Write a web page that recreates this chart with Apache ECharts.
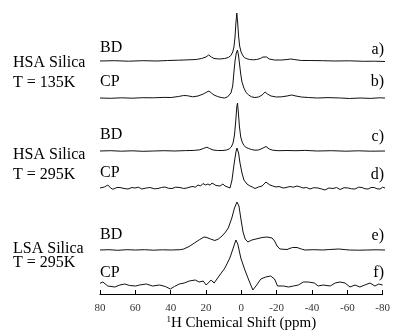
<!DOCTYPE html>
<html>
<head>
<meta charset="utf-8">
<script src="https://cdn.jsdelivr.net/npm/echarts@6/dist/echarts.min.js"></script>
<style>
  html, body { margin: 0; padding: 0; background: #fff; }
  #chart { width: 393px; height: 333px; }
</style>
</head>
<body>
<div id="chart"></div>
<script>
// spectra: [ppm, intensity above baseline]
const traceA = [[80,0],[72,0.3],[64,-0.2],[56,0.3],[48,0],[42,0.5],[36,0.8],[30,1.2],[26,1.5],[23,2.5],[20.5,4],[19,6],[17.5,4],[16,2.5],[13,2],[10,2.5],[8,3.5],[6.5,5.5],[5.5,9],[4.8,14],[4.2,24],[3.7,38],[3.2,48],[2.7,38],[2.2,25],[1.6,15],[0.8,9],[0,6],[-1,3.5],[-2.5,2.2],[-4,1.5],[-6,1.2],[-8,1.5],[-10,2.5],[-11.5,4],[-12.5,5.5],[-13.5,4],[-15,2],[-18,1],[-22,1],[-25,1.5],[-27,2],[-29,1.5],[-33,0.5],[-38,0.5],[-45,0.3],[-52,0],[-60,0.2],[-68,-0.3],[-74,-0.2],[-80,-0.5]];
const traceB = [[80,0],[74,-0.3],[68,0.2],[62,-0.2],[56,0.3],[50,0.2],[44,0.6],[40,0.5],[36,1.5],[33,2.5],[31,2.3],[28,1.2],[25,2],[22,4],[20,6],[18.8,7],[17.5,5],[16,3],[14,1.5],[12,0.5],[10,0],[8.5,1],[7.5,2.5],[6.5,5],[5.5,12],[4.8,26],[4.2,37],[3.5,45],[2.8,48],[2.2,42],[1.6,33],[1,24],[0.3,16],[-0.8,10],[-2,5.5],[-3.5,3],[-5,1.2],[-7,0.5],[-9,1],[-11,3],[-12.7,6],[-14,4],[-16,2],[-19,1],[-22,1.2],[-25,2],[-27.5,3],[-30,2],[-33,1],[-37,0.5],[-42,0],[-48,0.4],[-55,0],[-60,-0.5],[-66,0],[-72,-0.4],[-77,0.2],[-80,0]];
const traceC = [[80,0],[74,0.3],[68,-0.2],[62,0.2],[56,-0.3],[50,0],[44,0.3],[38,0],[32,0.4],[27,0.6],[24,1.2],[22,2.5],[20,3.8],[18.5,2.5],[16.5,1],[14,0.5],[11,0.5],[9,1],[7.5,2],[6.3,4],[5.3,8],[4.5,16],[3.8,30],[3.2,44],[2.8,48],[2.3,38],[1.7,24],[1,14],[0.2,9],[-0.8,5.5],[-2,3.5],[-3.5,2.5],[-5,1.5],[-7,0.8],[-9,1],[-11,2.5],[-13.2,4.5],[-15,2],[-17,0.8],[-20,0.3],[-25,0.5],[-30,0.3],[-35,0.6],[-42,0],[-50,0.3],[-58,-0.2],[-65,0.2],[-72,-0.2],[-80,0]];
const traceD = [[80,0],[77.5,1],[75.6,3],[74,0],[72.8,-1.3],[70.5,0.5],[68.8,0.5],[66.5,-0.5],[64.3,-1],[62,0.5],[60.4,0],[58.5,0.8],[56.5,-1],[54,0],[52,0.5],[49.5,-0.8],[47.5,-0.5],[45.5,0.5],[43.5,1],[41.5,-0.3],[39.6,-0.5],[37.5,0.8],[35.1,0.5],[33,-0.5],[31.2,0],[29.5,1],[27.8,1.5],[26.5,0.8],[25,3],[23.5,2],[22.2,4.5],[20.8,3],[19.4,4],[18.2,2.8],[17.1,5],[16,3.5],[14.9,2.5],[13.8,1],[12.6,2],[11,4],[9.8,2],[8.7,0.5],[7,0],[5.9,8],[4.8,23],[3.7,36],[3.1,40],[2.2,35],[1.4,25],[0.3,15],[-0.8,8],[-2.5,4],[-4.2,2],[-5.5,1],[-7,-0.5],[-9,1],[-11,2],[-13.2,6],[-14.2,4],[-15.4,3],[-17,2],[-18.8,1],[-20.5,1.5],[-22.8,0],[-24.5,0.5],[-26.7,1.5],[-28.5,0.8],[-30.6,2],[-32.5,1],[-34,0],[-36,0.5],[-37.9,-1],[-40,0.3],[-42.4,0],[-44.5,-1],[-46.3,-2],[-48.5,0],[-50.8,-0.5],[-52.8,0.5],[-54.8,-1.5],[-57,0.3],[-59.3,0],[-61.2,-0.8],[-63.2,-1],[-65.2,0.8],[-67.1,0.5],[-68.8,-0.8],[-70.5,-1],[-72.2,0.5],[-73.9,0.5],[-75.5,-0.8],[-77.2,-1],[-78.7,0.8],[-80,0]];
const traceE = [[80,0],[75,0.3],[70,-0.3],[65,0.3],[60,0],[55,0.3],[50,-0.2],[45,0.2],[40,0],[35,0.3],[33,1],[30,3.5],[27,7],[24,10.5],[21.6,13],[20,12.5],[18,11],[15.5,9.5],[13.5,11],[11.5,14],[9.5,18],[8,22],[6,32],[4.5,42],[3.1,48],[2,44],[0.8,30],[-0.3,18],[-1.5,11],[-3,8],[-5.3,10],[-8.7,11.5],[-11,12.5],[-13.8,13],[-16.6,12],[-18,9],[-19.4,4],[-21,1],[-22,0],[-25,0.5],[-28,2.5],[-30.6,2.5],[-33,1],[-35,0],[-40,0.3],[-45,0],[-49,0.5],[-54,1],[-58,0.3],[-60,0],[-65,-0.2],[-70,0],[-75,0.2],[-80,0]];
const traceF = [[80,1.7],[78.4,3],[75.6,-1],[71.6,-2],[68.8,0],[66,1],[63.2,-0.5],[59.8,-1],[57.6,0],[53.7,1],[50.3,-1],[46.3,0],[43,-1.5],[40.2,-4],[37.9,-1.5],[35.1,1],[32.3,2],[29.5,4],[26.1,5],[23.9,3],[21.6,4],[19.9,0],[17.1,5],[15.4,2],[12.6,9],[9.3,17],[6.5,27],[4.2,39],[3.1,45],[2,41],[0.3,27],[-2,15],[-4.2,5],[-6.5,-5],[-8.7,0],[-11,6],[-13.8,8],[-16.6,9],[-18.8,6],[-20.5,-1],[-23.9,-1],[-26.7,-2],[-29.5,-1],[-32.3,0],[-35.1,3],[-37.9,3],[-41.3,2],[-43.5,-1],[-46.3,0],[-50.3,-1],[-53.1,2],[-55.9,3],[-58.7,2],[-61.5,-2],[-64.3,0],[-67.1,-2],[-69.9,0],[-72.8,2],[-75.6,-1],[-77.8,1],[-80,0]];

const traces = [traceA, traceB, traceC, traceD, traceE, traceF];
const traceTags = ['a)', 'b)', 'c)', 'd)', 'e)', 'f)'];
const methods = ['BD', 'CP', 'BD', 'CP', 'BD', 'CP'];
const samples = [['HSA Silica', 'T = 135K'], ['HSA Silica', 'T = 295K'], ['LSA Silica', 'T = 295K']];
const xTicks = { min: -80, max: 80, interval: 20 };
const xTitle = '{sup|1}H Chemical Shift (ppm)';

const chart = echarts.init(document.getElementById('chart'));
const serif = '"Liberation Serif", "DejaVu Serif", serif';

// layout (pixel positions)
const baselines = [61, 98, 151, 188, 250, 285];
const yMin = -9, yMax = 50;
const methodY = [48, 82, 135, 173, 235, 273];
const tagY = [50, 82, 137, 175, 236, 273];
const sampleY = [[63, 83], [155, 175], [249, 263]];

const grids = [], xAxes = [], yAxes = [], series = [];
traces.forEach((t, i) => {
  const last = i === traces.length - 1;
  grids.push({ left: 100, right: 8, top: baselines[i] - yMax, height: yMax - yMin });
  xAxes.push({
    type: 'value', gridIndex: i, inverse: true,
    min: xTicks.min, max: xTicks.max, interval: xTicks.interval,
    show: last,
    splitLine: { show: false },
    axisLine: { show: true, onZero: false, lineStyle: { color: '#000', width: 1 } },
    axisTick: { show: true, inside: true, length: 4, lineStyle: { color: '#000' } },
    axisLabel: { color: '#333', fontFamily: serif, fontSize: 11, margin: 9 },
    name: last ? xTitle : '',
    nameLocation: 'middle', nameGap: 19,
    nameTextStyle: {
      color: '#000', fontFamily: serif, fontSize: 15,
      rich: { sup: { fontSize: 9, fontFamily: serif, color: '#000', padding: [0, 0, 7, 0] } }
    }
  });
  yAxes.push({ type: 'value', gridIndex: i, min: yMin, max: yMax, show: false });
  series.push({
    type: 'line', xAxisIndex: i, yAxisIndex: i, data: t,
    symbol: 'none', clip: false, silent: true,
    lineStyle: { color: '#111', width: 1 }
  });
});

const graphic = [];
const label = (text, x, y, align) => ({
  type: 'text', x, y, silent: true,
  style: { text, fill: '#000', font: '16px ' + serif, textAlign: align, textVerticalAlign: 'middle' }
});
methods.forEach((m, i) => graphic.push(label(m, 100, methodY[i], 'left')));
traceTags.forEach((m, i) => graphic.push(label(m, 384, tagY[i], 'right')));
samples.forEach((s, i) => {
  graphic.push(label(s[0], 13, sampleY[i][0], 'left'));
  graphic.push(label(s[1], 13, sampleY[i][1], 'left'));
});

chart.setOption({
  animation: false,
  backgroundColor: '#fff',
  grid: grids,
  xAxis: xAxes,
  yAxis: yAxes,
  series,
  graphic
});
</script>
</body>
</html>
